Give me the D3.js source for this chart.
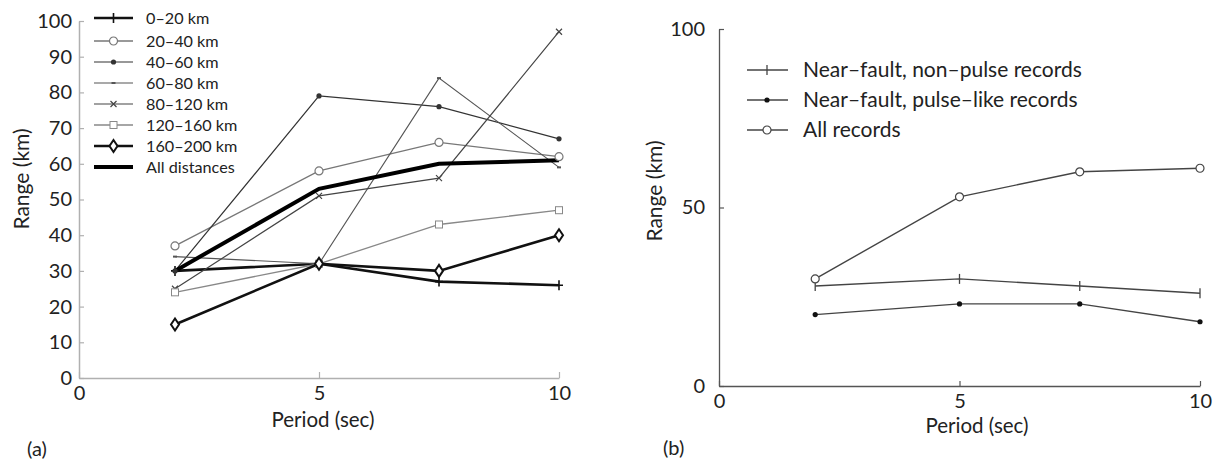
<!DOCTYPE html>
<html><head><meta charset="utf-8">
<script src="https://cdn.jsdelivr.net/npm/d3@7"></script>
<style>body{margin:0;background:#fff}svg{display:block;font-family:Lato,"Open Sans",sans-serif}</style>
</head><body><svg id="c" width="1217" height="463"></svg>
<script>
const periods = [2, 5, 7.5, 10];
const leftLabels = ["0\u201320 km","20\u201340 km","40\u201360 km","60\u201380 km","80\u2013120 km","120\u2013160 km","160\u2013200 km","All distances"];
const r0_20 = [30, 32, 27, 26];
const r20_40 = [37, 58, 66, 62];
const r40_60 = [30, 79, 76, 67];
const r60_80 = [34, 32, 84, 59];
const r80_120 = [25, 51, 56, 97];
const r120_160 = [24, 32, 43, 47];
const r160_200 = [15, 32, 30, 40];
const rAll = [30, 53, 60, 61];
const leftTicksY = [0,10,20,30,40,50,60,70,80,90,100];
const xTicks = [0,5,10];

const rightLabels = ["Near\u2013fault, non\u2013pulse records","Near\u2013fault, pulse\u2013like records","All records"];
const nonPulse = [28, 30, 28, 26];
const pulse = [20, 23, 23, 18];
const allRecords = [30, 53, 60, 61];
const rightTicksY = [0,50,100];

const svg = d3.select("#c");
const TXT = "#222";

function marker(g, type, x, y, color) {
  const s = g.append("g").attr("transform", `translate(${x},${y})`);
  if (type === "plus") s.append("path").attr("d","M-4,0H4M0,-5V5").attr("stroke",color).attr("stroke-width",1.6).attr("fill","none");
  else if (type === "circle") s.append("circle").attr("r",4).attr("fill","#fff").attr("stroke",color).attr("stroke-width",1.2);
  else if (type === "dot") s.append("circle").attr("r",2.6).attr("fill",color);
  else if (type === "dash") s.append("path").attr("d","M-2,0H2").attr("stroke",color).attr("stroke-width",2);
  else if (type === "x") s.append("path").attr("d","M-3,-3L3,3M-3,3L3,-3").attr("stroke",color).attr("stroke-width",1.2);
  else if (type === "square") s.append("rect").attr("x",-3.5).attr("y",-3.5).attr("width",7).attr("height",7).attr("fill","#fff").attr("stroke",color).attr("stroke-width",1);
  else if (type === "diamond") s.append("path").attr("d","M0,-6L4,0L0,6L-4,0Z").attr("fill","#fff").attr("stroke",color).attr("stroke-width",2);
}

// ---------- Left panel ----------
const xL = d3.scaleLinear().domain([0,10]).range([79,559]);
const yL = d3.scaleLinear().domain([0,100]).range([378,21]);

const leftSeries = [
  {v:r0_20, c:"#111", w:2.6, m:"plus"},
  {v:r20_40, c:"#777", w:1.3, m:"circle"},
  {v:r40_60, c:"#333", w:1.2, m:"dot"},
  {v:r60_80, c:"#555", w:1.1, m:"dash"},
  {v:r80_120, c:"#444", w:1.2, m:"x"},
  {v:r120_160, c:"#888", w:1.3, m:"square"},
  {v:r160_200, c:"#111", w:2.6, m:"diamond"},
  {v:rAll, c:"#000", w:4, m:"none"}
];

const axisColor = "#b0b0b0";
const gyL = svg.append("g").attr("transform","translate(79,0)")
  .call(d3.axisLeft(yL).tickValues(leftTicksY).tickSizeInner(-5).tickSizeOuter(0).tickPadding(7));
const gxL = svg.append("g").attr("transform","translate(0,378)")
  .call(d3.axisBottom(xL).tickValues(xTicks).tickSizeInner(-6).tickSizeOuter(0).tickPadding(6));
[gyL,gxL].forEach(g=>{
  g.select(".domain").attr("stroke",axisColor).attr("stroke-width",1.5);
  g.selectAll(".tick line").attr("stroke",axisColor).attr("stroke-width",1.2);
  g.selectAll(".tick text").attr("font-size",20).attr("fill",TXT).attr("font-family","Lato");
});
gxL.selectAll(".tick text").attr("dy","0.8em");

const line = (xs, ys) => d3.line().x((d,i)=>xs(periods[i])).y(d=>ys(d));
const gL = svg.append("g");
leftSeries.forEach(s=>{
  gL.append("path").datum(s.v).attr("d", line(xL,yL)).attr("fill","none")
    .attr("stroke",s.c).attr("stroke-width",s.w).attr("stroke-linejoin","miter");
});
leftSeries.forEach(s=>{
  if (s.m !== "none") s.v.forEach((d,i)=>marker(gL, s.m, xL(periods[i]), yL(d), s.c));
});

// legend left
const lgL = svg.append("g");
leftSeries.forEach((s,i)=>{
  const y = 18 + i*21 + (i>0?2:0);
  lgL.append("line").attr("x1",94).attr("x2",133).attr("y1",y).attr("y2",y).attr("stroke",s.c).attr("stroke-width",s.w);
  if (s.m !== "none") marker(lgL, s.m, 113.5, y, s.c);
  lgL.append("text").attr("x",146).attr("y",y).attr("dy","0.35em").attr("font-size",16.2).attr("fill",TXT).text(leftLabels[i]);
});

svg.append("text").attr("transform","translate(29,179) rotate(-90)").attr("text-anchor","middle")
  .attr("font-size",21).attr("fill",TXT).text("Range (km)");
svg.append("text").attr("x",323).attr("y",427).attr("text-anchor","middle").attr("font-size",20.5).attr("fill",TXT).text("Period (sec)");
svg.append("text").attr("x",27).attr("y",456).attr("font-size",20).attr("fill",TXT).text("(a)");

// ---------- Right panel ----------
const xR = d3.scaleLinear().domain([0,10]).range([719,1200]);
const yR = d3.scaleLinear().domain([0,100]).range([386,29]);
const axisColorR = "#555";
const gyR = svg.append("g").attr("transform","translate(719,0)")
  .call(d3.axisLeft(yR).tickValues(rightTicksY).tickSizeInner(-5).tickSizeOuter(0).tickPadding(14));
const gxR = svg.append("g").attr("transform","translate(0,386)")
  .call(d3.axisBottom(xR).tickValues(xTicks).tickSizeInner(-5).tickSizeOuter(0).tickPadding(6));
[gyR,gxR].forEach(g=>{
  g.select(".domain").attr("stroke",axisColorR).attr("stroke-width",1.3);
  g.selectAll(".tick line").attr("stroke",axisColorR).attr("stroke-width",1.2);
  g.selectAll(".tick text").attr("font-size",20).attr("fill",TXT).attr("font-family","Lato");
});
gxR.selectAll(".tick text").attr("dy","0.8em");

const rightSeries = [
  {v:nonPulse, m:"plus"},
  {v:pulse, m:"dot"},
  {v:allRecords, m:"circle"}
];
const gR = svg.append("g");
rightSeries.forEach(s=>{
  gR.append("path").datum(s.v).attr("d", line(xR,yR)).attr("fill","none").attr("stroke","#444").attr("stroke-width",1.4);
});
rightSeries.forEach(s=>{
  s.v.forEach((d,i)=>{
    if (s.m==="plus") gR.append("path").attr("transform",`translate(${xR(periods[i])},${yR(d)})`).attr("d","M0,-5V5").attr("stroke","#444").attr("stroke-width",1.3);
    else marker(gR, s.m, xR(periods[i]), yR(d), s.m==="dot"?"#111":"#444");
  });
});
const lgR = svg.append("g");
rightSeries.forEach((s,i)=>{
  const y = 70 + i*30;
  lgR.append("line").attr("x1",747).attr("x2",788).attr("y1",y).attr("y2",y).attr("stroke","#444").attr("stroke-width",1.4);
  if (s.m==="plus") lgR.append("path").attr("transform",`translate(767,${y})`).attr("d","M0,-5V5").attr("stroke","#444").attr("stroke-width",1.3);
  else marker(lgR, s.m, 767, y, s.m==="dot"?"#111":"#444");
  lgR.append("text").attr("x",803).attr("y",y).attr("dy","0.35em").attr("font-size",21).attr("fill",TXT).text(rightLabels[i]);
});
svg.append("text").attr("transform","translate(662,191) rotate(-90)").attr("text-anchor","middle")
  .attr("font-size",21).attr("fill",TXT).text("Range (km)");
svg.append("text").attr("x",977).attr("y",433).attr("text-anchor","middle").attr("font-size",20.5).attr("fill",TXT).text("Period (sec)");
svg.append("text").attr("x",663).attr("y",455).attr("font-size",20).attr("fill",TXT).text("(b)");
</script></body></html>
